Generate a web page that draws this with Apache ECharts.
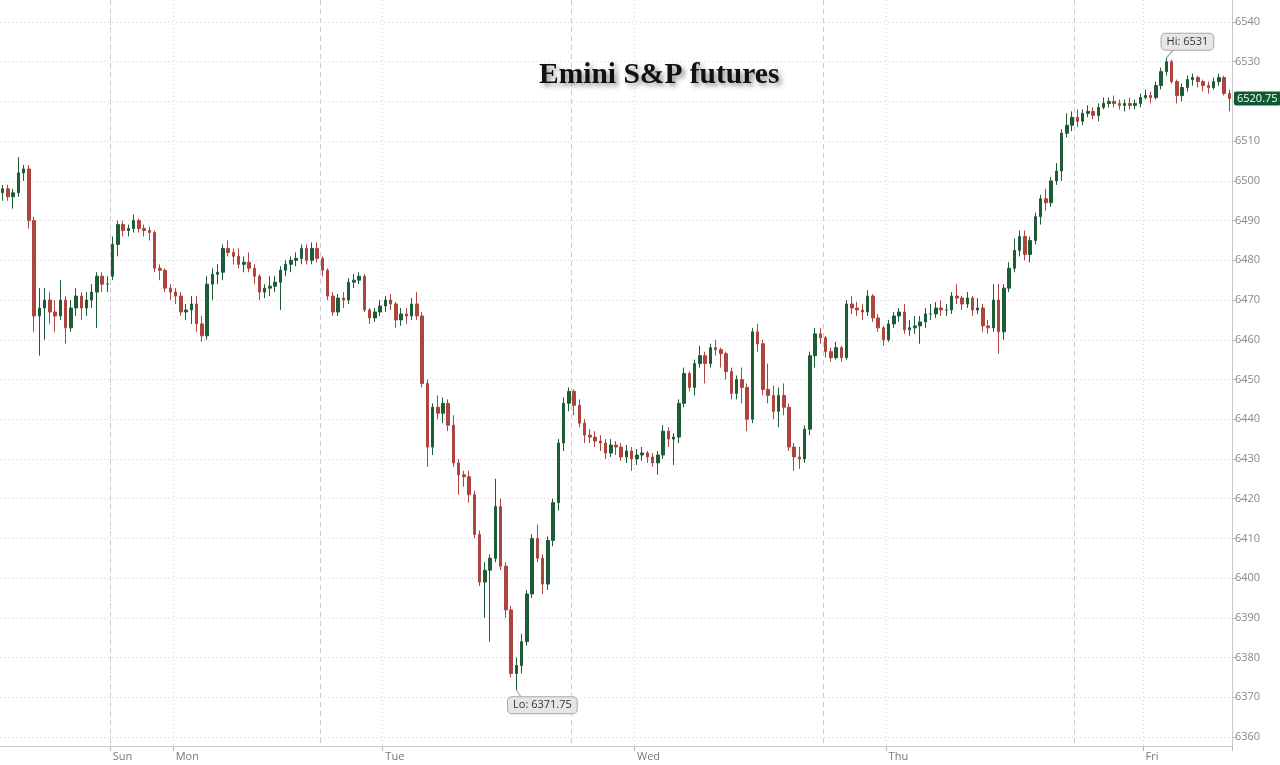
<!DOCTYPE html>
<html><head><meta charset="utf-8">
<script src="https://cdn.jsdelivr.net/npm/echarts@6/dist/echarts.min.js"></script>
<style>html,body{margin:0;padding:0;background:#fff}#c{width:1280px;height:765px}</style>
</head><body><div id="c"></div>
<script>
// 30-minute bars, Emini S&P futures
const open = [
6497,6498,6496,6497,6502,6503,6490,6466,6468,6470,
6467,6466,6470,6463,6468,6471,6468,6470,6472,6476,
6474,6476,6484,6489,6487.5,6488,6490,6488,6487.5,6487,
6478,6477.5,6473,6472,6471,6467,6467.5,6469,6464,6461,
6474,6476.5,6477,6483,6482,6481,6479,6479.5,6478,6476,
6472,6473,6473.5,6474.5,6477.5,6479,6480,6480.5,6483,6480,
6483,6480.5,6477.5,6471,6467,6470.5,6470,6474.5,6475,6476,
6467.5,6465.5,6467,6468.5,6470,6469,6465,6466.5,6466,6469,
6466,6449,6433,6443,6441.5,6444,6438.5,6429,6426,6425.5,
6421,6411,6399,6402,6405,6418,6403,6392,6376,6378,
6384,6396,6410,6405,6398.5,6409.5,6419,6434,6444,6447,
6443.5,6439,6436,6435.5,6434.5,6434,6431.5,6433.5,6433,6430.5,
6432,6430,6431,6431.5,6430.5,6429,6431,6437,6435,6435.5,
6444,6451.5,6448,6454,6456,6454,6458,6457.5,6456.5,6452,
6446.5,6450,6448,6440,6462,6459,6447.5,6446,6442,6446,
6443,6433,6430.5,6430,6437.5,6456,6461.5,6460.5,6457,6455.5,
6458,6455.5,6469,6468,6467.5,6467,6471,6465.5,6463,6460,
6464,6466,6467,6462.5,6463,6463.5,6464.5,6466.5,6466.5,6468,
6467.5,6467.5,6471,6470.5,6469,6470.5,6467.5,6468,6463.5,6463,
6470,6462,6473,6478,6482.5,6486,6481.5,6485,6491,6495.5,
6494.5,6500,6502.5,6512,6514,6516,6515,6517,6517.5,6516.5,
6518.5,6519.5,6520,6519.5,6519,6519.5,6519,6519.5,6521,6521.5,
6521,6524,6527.5,6530,6525,6521.5,6523.5,6525.5,6526,6525,
6524,6523.5,6525,6526,6522
];
const close = [
6498,6496,6497,6502,6503,6490,6466,6468,6470,6467,
6466,6470,6463,6468,6471,6468,6470,6472,6476,6474,
6474,6484,6489,6487.5,6488,6490,6488,6487.5,6487,6478,
6477.5,6473,6472,6471,6467,6467.5,6469,6464,6461,6474,
6476.5,6477,6483,6482,6481,6479,6479.5,6478,6476,6472,
6473,6473.5,6474.5,6477.5,6479,6480,6480.5,6483,6480,6483,
6480.5,6477.5,6471,6467,6470.5,6470,6474.5,6475,6476,6467.5,
6465.5,6467,6468.5,6470,6469,6465,6466.5,6466,6469,6466,
6449,6433,6443,6441.5,6444,6438.5,6429,6426,6425.5,6421,
6411,6399,6402,6405,6418,6403,6392,6376,6378,6384,
6396,6410,6405,6398.5,6409.5,6419,6434,6444,6447,6443.5,
6439,6436,6435.5,6434.5,6434,6431.5,6433.5,6433,6430.5,6432,
6430,6431,6431.5,6430.5,6429,6431,6437,6435,6435.5,6444,
6451.5,6448,6454,6456,6454,6458,6457.5,6456.5,6452,6446.5,
6450,6448,6440,6462,6459,6447.5,6446,6442,6446,6443,
6433,6430.5,6430,6437.5,6456,6461.5,6460.5,6457,6455.5,6458,
6455.5,6469,6468,6467.5,6467,6471,6465.5,6463,6460,6464,
6466,6467,6462.5,6463,6463.5,6464.5,6466.5,6466.5,6468,6467.5,
6467.5,6471,6470.5,6469,6470.5,6467.5,6468,6463.5,6463,6470,
6462,6473,6478,6482.5,6486,6481.5,6485,6491,6495.5,6494.5,
6500,6502.5,6512,6514,6516,6515,6517,6517.5,6516.5,6518.5,
6519.5,6520,6519.5,6519,6519.5,6519,6519.5,6521,6521.5,6521,
6524,6527.5,6530,6525,6521.5,6523.5,6525.5,6526,6525,6524,
6523.5,6525,6526,6522,6520.75
];
const low = [
6495,6495,6493,6496,6500,6488,6462,6456,6460,6464,
6462,6465,6459,6462,6466,6465,6466,6468,6463,6472,
6472,6475,6481,6486,6486,6487,6487,6486,6485,6477,
6475,6472,6470,6469,6466,6465,6464,6462,6459.5,6460,
6470,6474,6475,6481,6479,6478,6477,6477,6474,6470,
6470.5,6471,6472,6467.5,6476,6477,6478.5,6479,6479,6479,
6479.5,6476,6470,6466,6466,6468,6469,6473,6474,6467,
6464,6464.5,6466,6467,6467.5,6463,6463.5,6464,6465,6465,
6448,6428,6431,6440,6439,6437,6428,6421,6423,6419,
6410,6398,6390,6384,6404,6402,6390,6375,6371.75,6376,
6383,6395,6404,6396,6397,6408,6417,6432,6442,6441,
6438,6434,6434,6433,6432,6430,6430.5,6431,6429.5,6429,
6427,6428.5,6429.5,6429,6428,6426,6430,6433,6428.5,6434,
6443,6447,6446,6453,6449,6453,6456,6453,6450,6445,
6445,6444,6437,6439,6457,6446,6444,6440,6438,6441,
6432,6427,6427.5,6429,6436,6453,6459,6455.5,6454.5,6455,
6454.5,6455,6466.5,6466,6465,6466,6464.5,6462,6458.5,6459.5,
6463,6464.5,6461.5,6461,6461.5,6459,6463,6465,6465.5,6466,
6466,6466.5,6469,6467.5,6468,6466,6466.5,6462,6461.5,6462,
6456.5,6460,6472,6477,6481,6480,6479.5,6484,6489,6492.5,
6493.5,6499,6500,6511,6512.5,6513.5,6514,6516,6515.5,6515,
6518,6518.5,6518.5,6518,6517.5,6518,6518,6518.5,6520.5,6519.5,
6520.5,6523,6526.5,6524.5,6519.5,6520,6522.5,6524,6523.5,6522.5,
6522,6523,6524,6521.5,6517.5
];
const high = [
6499,6499,6498,6506,6504,6504,6491,6473,6473,6472,
6470,6475,6471,6470,6473,6472,6472,6474,6477,6477,
6476,6486,6490,6490,6489,6491.5,6490.5,6489,6488.5,6487.5,
6479,6478,6474,6473,6472,6469,6471,6471,6466,6476,
6478,6479,6484,6485,6483,6483,6481,6482,6479,6476.5,
6474,6476,6476,6478.5,6480,6481,6482,6484,6484,6484.5,
6484.5,6481,6478,6472,6471.5,6472,6475.5,6476.5,6477,6476.5,
6468,6468,6470,6471,6471.5,6469.5,6468,6468,6470.5,6472,
6467,6450,6444,6446,6445.5,6445,6441,6430,6427,6427,
6422,6412,6404,6406,6425,6420,6404,6393,6380,6386,
6397,6411,6413.5,6406,6410.5,6420,6435,6445.5,6448,6447.5,
6445,6440,6437.5,6437,6436,6435,6435,6434.5,6434,6433.5,
6433,6432.5,6433,6432,6431.5,6432,6438.5,6438,6436.5,6445,
6453,6452,6455,6458.5,6457,6459,6460,6458,6457,6453,
6451,6453,6449,6463,6464,6460,6454,6448.5,6448,6449,
6444,6434,6433,6438.5,6457,6463,6463,6461,6458,6459.5,
6458.5,6470,6471,6469.5,6469,6472.5,6471.5,6466.5,6463.5,6465,
6467,6468,6469,6465,6466,6466,6468,6469,6469.5,6470,
6469,6472,6474,6471,6472,6471,6470.5,6469,6465,6474,
6474,6474,6479.5,6485.5,6487.5,6487.5,6486,6492,6496.5,6498,
6501,6504.5,6513,6517,6517.5,6518,6518,6519,6518.5,6519.5,
6521,6521,6521.5,6520.5,6520.5,6521,6520.5,6522,6523,6522.5,
6525,6528.5,6531,6530.5,6525.5,6524.5,6526.5,6527,6526.5,6525.5,
6525,6526,6527,6526.5,6523
];
const dayLabels = ['Sun','Mon','Tue','Wed','Thu','Fri'];
const dayIndex = [21,33,73,121,169,218];      // bar where each day label sits
const sessionIndex = [21,61,109,157,205];     // bars where dashed session lines sit
const yMin = 6360, yMax = 6540, yStep = 10;
const titleText = 'Emini S&P futures';

const categories = open.map((_, i) => {
  const d = dayIndex.indexOf(i);
  return d >= 0 ? dayLabels[d] : String(i);
});
const ohlc = open.map((o, i) => [o, close[i], low[i], high[i]]);
const lastPrice = close[close.length - 1];

const UP = '#1d5c37', DOWN = '#ad443d';
const boxLabel = {
  show: true, color: '#333', fontSize: 11, fontFamily: 'Open Sans',
  backgroundColor: '#e6e6e6', borderColor: '#a8a8a8', borderWidth: 1,
  borderRadius: 4, padding: [3, 5, 2, 5]
};

const chart = echarts.init(document.getElementById('c'), null, {renderer: 'canvas'});
chart.setOption({
  animation: false,
  backgroundColor: '#ffffff',
  title: {
    text: titleText, left: 534, top: 55,
    textStyle: {
      fontFamily: 'Liberation Serif', fontWeight: 'bold', fontSize: 29.5, color: '#111',
      textShadowColor: 'rgba(0,0,0,0.45)', textShadowBlur: 5,
      textShadowOffsetX: 3, textShadowOffsetY: 3
    }
  },
  grid: [
    {left: 0, right: 48, top: 22, bottom: 28},
    {left: 0, right: 48, top: 0, bottom: 19}
  ],
  xAxis: [
    {type: 'category', gridIndex: 0, data: categories, boundaryGap: true,
     axisLine: {show: false}, axisTick: {show: false}, axisLabel: {show: false}, splitLine: {show: false}},
    {type: 'category', gridIndex: 1, data: categories, boundaryGap: true, position: 'bottom',
     axisLine: {show: true, onZero: false, lineStyle: {color: '#c8c8c8'}},
     axisTick: {show: true, interval: (i) => dayIndex.includes(i), length: 5, lineStyle: {color: '#b8b8b8'}},
     axisLabel: {show: true, interval: (i) => dayIndex.includes(i), align: 'left', color: '#777',
                 fontSize: 11, margin: 5, fontFamily: 'Open Sans'},
     splitLine: {show: true, interval: (i) => dayIndex.includes(i), lineStyle: {color: '#d4d4d4', type: [1, 3]}}},
    {type: 'category', gridIndex: 1, data: categories, boundaryGap: true, position: 'bottom',
     axisLine: {show: false, onZero: false}, axisTick: {show: false}, axisLabel: {show: false},
     splitLine: {show: true, interval: (i) => sessionIndex.includes(i), lineStyle: {color: '#cbcbcb', type: [5, 4]}}}
  ],
  yAxis: [
    {type: 'value', gridIndex: 0, position: 'right', min: yMin, max: yMax, interval: yStep,
     axisLine: {show: false},
     axisTick: {show: true, length: 4, lineStyle: {color: '#b8b8b8'}},
     axisLabel: {color: '#888', fontSize: 11, margin: 3, fontFamily: 'Open Sans', formatter: (v) => String(v)},
     splitLine: {show: true, lineStyle: {color: '#d4d4d4', type: [1, 3]}}},
    {type: 'value', gridIndex: 1, position: 'right',
     axisLine: {show: true, onZero: false, lineStyle: {color: '#c8c8c8'}},
     axisTick: {show: false}, axisLabel: {show: false}, splitLine: {show: false}}
  ],
  series: [{
    type: 'candlestick', xAxisIndex: 0, yAxisIndex: 0,
    data: ohlc, barWidth: 3,
    itemStyle: {color: UP, color0: DOWN, borderColor: UP, borderColor0: DOWN, borderWidth: 1},
    markPoint: {
      silent: true, animation: false,
      data: [
        {type: 'max', valueDim: 'highest', symbol: 'path://M0,10L10,0', symbolSize: [7, 8], symbolOffset: [3.5, -4],
         itemStyle: {color: 'none', borderColor: '#9a9a9a', borderWidth: 1}, label: {show: false}},
        {type: 'max', valueDim: 'highest', symbol: 'circle', symbolSize: 0,
         label: Object.assign({}, boxLabel, {formatter: 'Hi: {c}', offset: [21, -16]})},
        {type: 'min', valueDim: 'lowest', symbol: 'path://M0,0L10,10', symbolSize: [5, 7], symbolOffset: [2.5, 3.5],
         itemStyle: {color: 'none', borderColor: '#9a9a9a', borderWidth: 1}, label: {show: false}},
        {type: 'min', valueDim: 'lowest', symbol: 'circle', symbolSize: 0,
         label: Object.assign({}, boxLabel, {formatter: 'Lo: {c}', offset: [26, 15]})}
      ]
    },
    markLine: {
      silent: true, animation: false, symbol: 'none',
      lineStyle: {width: 1, color: 'rgba(255,255,255,0)', type: 'solid'},
      data: [{yAxis: lastPrice}],
      label: {show: true, position: 'end', distance: 2, formatter: () => lastPrice.toFixed(2),
              backgroundColor: '#0f5a33', color: '#fff', fontSize: 11, fontFamily: 'Open Sans',
              padding: [2, 3, 1, 3], borderRadius: 2}
    }
  }]
});
</script>
</body></html>
